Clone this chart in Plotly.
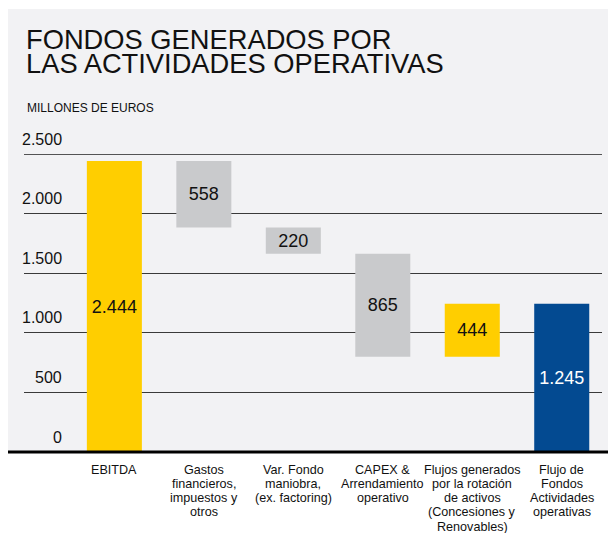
import plotly.graph_objects as go

# ---- data ----
categories = ["EBITDA",
              "Gastos<br>financieros,<br>impuestos y<br>otros",
              "Var. Fondo<br>maniobra,<br>(ex. factoring)",
              "CAPEX &<br>Arrendamiento<br>operativo",
              "Flujos generados<br>por la rotación<br>de activos<br>(Concesiones y<br>Renovables)",
              "Flujo de<br>Fondos<br>Actividades<br>operativas"]
values = [2444, -558, -220, -865, 444, 1245]
measures = ["absolute", "relative", "relative", "relative", "relative", "total"]
y_ticks = [0, 500, 1000, 1500, 2000, 2500]
y_tick_labels = ["0", "500", "1.000", "1.500", "2.000", "2.500"]
title_lines = ["FONDOS GENERADOS POR", "LAS ACTIVIDADES OPERATIVAS"]
subtitle = "MILLONES DE EUROS"

# ---- styles ----
YELLOW = "#FFCE00"
GREY = "#C9CACC"
BLUE = "#034A91"
BG = "#F2F2F4"
GRID = "#3a3a3a"
FONT = "Liberation Sans, Arial, Helvetica, sans-serif"

# waterfall bases/heights computed from the values
bases, heights, colors, tcolors = [], [], [], []
running = 0
for v, m in zip(values, measures):
    if m == "absolute":
        bases.append(0); heights.append(v); running = v
        colors.append(YELLOW); tcolors.append("#111111")
    elif m == "total":
        bases.append(0); heights.append(running)
        colors.append(BLUE); tcolors.append("#FFFFFF")
    else:
        if v < 0:
            bases.append(running + v); heights.append(-v)
            colors.append(GREY)
        else:
            bases.append(running); heights.append(v)
            colors.append(YELLOW)
        tcolors.append("#111111")
        running += v

texts = [f"{abs(v):,}".replace(",", ".") for v in values]

fig = go.Figure()
fig.add_trace(go.Bar(
    x=list(range(len(categories))), y=heights, base=bases,
    marker=dict(color=colors, line=dict(width=0)),
    width=0.615,
    text=texts, textposition="inside", insidetextanchor="middle",
    textfont=dict(size=18, color=tcolors, family=FONT),
    hoverinfo="skip", cliponaxis=False,
))

annotations = []
# title
for i, line in enumerate(title_lines):
    annotations.append(dict(text=line, xref="paper", yref="paper", x=0, y=1,
                            xanchor="left", yanchor="middle", xshift=0,
                            yshift=114.3 - i * 24.1, showarrow=False,
                            font=dict(size=27.3, color="#111111", family=FONT)))
annotations.append(dict(text=subtitle, xref="paper", yref="paper", x=0, y=1,
                        xanchor="left", yanchor="middle", xshift=1, yshift=46.5,
                        showarrow=False,
                        font=dict(size=12, color="#111111", family=FONT)))
# y tick labels
for v, lab in zip(y_ticks, y_tick_labels):
    annotations.append(dict(text=lab, xref="paper", yref="y", x=0, y=v,
                            xanchor="right", yanchor="middle", xshift=40,
                            yshift=15, showarrow=False,
                            font=dict(size=16, color="#111111", family=FONT)))
# category labels (line by line, tight spacing)
for ci, cat in enumerate(categories):
    for li, line in enumerate(cat.split("<br>")):
        annotations.append(dict(text=line, xref="x", yref="y", x=ci, y=0,
                                xanchor="center", yanchor="middle",
                                yshift=-(17.7 + li * 14.2), showarrow=False,
                                font=dict(size=12.6, color="#111111", family=FONT)))

L, R, T, B = 24, 6, 154, 81
W, H = 608, 533
pw, ph = W - L - R, H - T - B

shapes = [
    dict(type="rect", xref="paper", yref="paper",
         x0=(8 - L) / pw, x1=(W - L) / pw, y0=0, y1=(H - B - 9) / ph,
         fillcolor=BG, line=dict(width=0), layer="below"),
    # top gridline (at the plot edge)
    dict(type="line", xref="paper", yref="y", x0=0, x1=1,
         y0=y_ticks[-1], y1=y_ticks[-1],
         line=dict(color=GRID, width=1), layer="between"),
    dict(type="line", xref="paper", yref="paper",
         x0=(8 - L) / pw, x1=(W - L) / pw, y0=0, y1=0,
         line=dict(color="#000000", width=3), layer="above"),
]

fig.update_layout(
    width=W, height=H, autosize=False,
    margin=dict(l=L, r=R, t=T, b=B, pad=0),
    paper_bgcolor="#FFFFFF", plot_bgcolor="rgba(0,0,0,0)",
    showlegend=False,
    uniformtext=dict(minsize=18, mode="show"),
    annotations=annotations, shapes=shapes,
    xaxis=dict(range=[-1.01, 5.45], showticklabels=False, showgrid=False,
               zeroline=False, ticks="", fixedrange=True),
    yaxis=dict(range=[0, 2503], tickvals=y_ticks[1:], showticklabels=False,
               showgrid=True, gridcolor=GRID, gridwidth=1,
               zeroline=False, ticks="", fixedrange=True),
    font=dict(family=FONT, color="#111111"),
)

fig.write_html("out.html", config={"displayModeBar": False})
